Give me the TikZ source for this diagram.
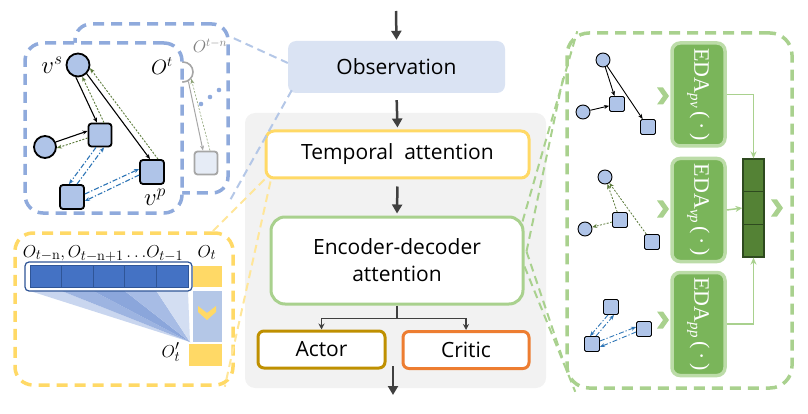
\documentclass[tikz,border=0pt]{standalone}
\usepackage[no-math]{fontspec}
\setmainfont{Open Sans}
\newfontfamily\serifcam{Liberation Serif}
\usetikzlibrary{arrows.meta,calc}
\definecolor{obsblue}{HTML}{DAE3F3}
\definecolor{pblue}{HTML}{8FAADC}
\definecolor{lblue}{HTML}{B4C7E7}
\definecolor{nodeblue}{HTML}{AFC4E8}
\definecolor{ayellow}{HTML}{FFD966}
\definecolor{lyellow}{HTML}{FFE699}
\definecolor{agreen}{HTML}{A9D18E}
\definecolor{edagreen}{HTML}{7AB55A}
\definecolor{edaborder}{HTML}{BCDCA8}
\definecolor{dgreen}{HTML}{548235}
\definecolor{ddgreen}{HTML}{2E4A1F}
\definecolor{agold}{HTML}{BF9000}
\definecolor{aorange}{HTML}{ED7D31}
\definecolor{bggrey}{HTML}{F2F2F2}
\definecolor{arrgrey}{HTML}{404040}
\definecolor{dblue}{HTML}{4472C4}
\definecolor{ddblue}{HTML}{2F5597}
\definecolor{dashblue}{HTML}{2E75B6}
\definecolor{olivedot}{HTML}{5B7A3A}
\definecolor{ghostgrey}{HTML}{A6A6A6}
\definecolor{ghostfill}{HTML}{E6ECF6}
\definecolor{fan1}{HTML}{C9D6EF}
\definecolor{fan2}{HTML}{9DB4E1}
\definecolor{fan3}{HTML}{8BA6DB}
\definecolor{fan4}{HTML}{A7BCE5}
\definecolor{fan5}{HTML}{D3DEF2}
\newcommand{\edalabel}[1]{EDA{\fontsize{15}{15}\selectfont\itshape\raisebox{-4pt}{#1}}\,(\,·\,)}
\begin{document}
\begin{tikzpicture}[x=1pt,y=-1pt,
  lbl/.style={font=\fontsize{21}{27}\selectfont, text=black},
  cbox/.style={draw, rounded corners=8pt, line width=3pt, fill=white, lbl, inner sep=0pt},
  bigarrow/.style={arrgrey, line width=2.5pt, -{Triangle[length=9pt,width=10pt]}},
  smallarr/.style={-{Stealth[length=5pt,width=4pt]}},
  bigv/.style={circle, draw=black, line width=1.8pt, fill=nodeblue, minimum size=23pt, inner sep=0pt},
  bigsq/.style={rectangle, rounded corners=3pt, draw=black, line width=1.8pt, fill=nodeblue, minimum size=23pt, inner sep=0pt},
  smv/.style={circle, draw=black, line width=0.9pt, fill=nodeblue, minimum size=14pt, inner sep=0pt},
  smsq/.style={rectangle, rounded corners=1.5pt, draw=black, line width=0.9pt, fill=nodeblue, minimum size=15pt, inner sep=0pt},
  solidarr/.style={black, line width=1.1pt, smallarr},
  dotarr/.style={olivedot, line width=0.9pt, dash pattern=on 2pt off 1.5pt, smallarr},
  dasharr/.style={dashblue, line width=1.1pt, dash pattern=on 5pt off 2pt on 1.2pt off 2pt, smallarr},
  panel/.style={rectangle, dash pattern=on 11pt off 7pt, line width=3.5pt, inner sep=0pt},
  link/.style={line width=2pt, dash pattern=on 8pt off 5pt},
  edabox/.style={rectangle, rounded corners=8pt, fill=edagreen, draw=edaborder, line width=3.5pt, minimum width=53pt, minimum height=103pt, inner sep=0pt},
  edatxt/.style={rotate=-90, text=white, font=\serifcam\fontsize{22}{22}\selectfont, inner sep=0pt},
  cellbox/.style={rectangle, fill=dgreen, draw=ddgreen, line width=1.2pt, minimum width=21pt, minimum height=32.7pt, inner sep=0pt},
  ysq/.style={rectangle, fill=ayellow, inner sep=0pt},
  chev/.pic={\fill[agreen] (-6,-8.5)--(0,-8.5)--(6,0)--(0,8.5)--(-6,8.5)--(0,0)--cycle;}
]
\useasboundingbox (0,0) rectangle (808,414);

% ---------- centre ----------
\fill[bggrey, rounded corners=10pt] (245,113) rectangle (546,388);
\node[fill=obsblue, rounded corners=8pt, minimum width=217pt, minimum height=52pt, lbl, inner sep=0pt] (obs) at (396.5,67) {Observation};
\node[cbox, draw=ayellow, minimum width=263pt, minimum height=47pt] (temp) at (397.5,154.5) {Temporal\ \ attention};
\node[cbox, draw=agreen, rounded corners=14pt, minimum width=252pt, minimum height=87pt, align=center] (enc) at (397,260.5) {Encoder-decoder\\attention};
\node[cbox, draw=agold, rounded corners=6pt, minimum width=127pt, minimum height=37pt] (actor) at (321.5,349.5) {Actor};
\node[cbox, draw=aorange, rounded corners=6pt, minimum width=126pt, minimum height=37pt] (critic) at (466,350) {Critic};

\coordinate (intop) at (396,11);
\coordinate (outtop) at (393,366);
\coordinate (outbot) at (393,395);
\draw[bigarrow, shorten >=1pt] (intop) -- (obs.north);
\draw[bigarrow, shorten <=7pt, shorten >=2pt] (obs.south) -- (temp.north);
\draw[bigarrow, shorten <=7pt, shorten >=2pt] (temp.south) -- (enc.north);
\draw[arrgrey, line width=1.3pt] (enc.south) -- ++(0,13) coordinate (split);
\draw[arrgrey, line width=1.3pt, -{Stealth[length=6pt,width=6pt]}] (split) -| (actor.north);
\draw[arrgrey, line width=1.3pt, -{Stealth[length=6pt,width=6pt]}] (split) -| (critic.north);
\draw[bigarrow] (outtop) -- (outbot);

% ---------- left top panel ----------
\node[panel, draw=pblue, rounded corners=16pt, minimum width=153pt, minimum height=169pt] (outerP) at (151.5,108.5) {};
\node[circle, draw=ghostgrey, line width=1.6pt, fill=white, minimum size=20pt, inner sep=0pt] (gc) at (183,72) {};
\node[rectangle, rounded corners=3pt, draw=ghostgrey, line width=1.8pt, fill=ghostfill, minimum size=23pt, inner sep=0pt] (gs) at (206,163) {};
\draw[ghostgrey, line width=1pt, smallarr] (gc.-60) -- ($(gs.north)+(-3,0)$);
\draw[dotarr, line width=0.6pt, olivedot!70] ($(gs.north)+(4,0)$) -- (gc.-40);
\fill[pblue] (201,104) circle (2.3) (210,97) circle (2.3) (219,90) circle (2.3);
\node[panel, draw=pblue, fill=white, rounded corners=18pt, minimum width=157pt, minimum height=170pt] (innerP) at (103.5,128) {};

\node[bigv] (vs) at (78,65) {};
\node[bigv, minimum size=22pt] (vl) at (45,147) {};
\node[bigsq] (vm) at (100,135) {};
\node[bigsq, minimum size=24pt] (vp) at (152,172) {};
\node[bigsq, minimum size=24pt] (vb) at (72,197) {};

\draw[solidarr] (vs.-100) -- ($(vm.north)+(-3,0)$);
\draw[dotarr] ($(vm.north)+(4,0)$) -- (vs.-70);
\draw[solidarr] (vs.-45) -- ($(vp.north)+(-2,0)$);
\draw[dotarr] ($(vp.north)+(6,0)$) -- (vs.-15);
\draw[solidarr] (vl.25) -- ($(vm.west)+(0,-4)$);
\draw[dotarr] ($(vm.west)+(0,3)$) -- (vl.-5);
\draw[dasharr] ($(vm.south)+(-4,0)$) -- ($(vb.north)+(-3,0)$);
\draw[dasharr] ($(vb.north)+(5,0)$) -- ($(vm.south)+(4,0)$);
\draw[dasharr] ($(vb.east)+(0,-3)$) -- ($(vp.west)+(0,-3)$);
\draw[dasharr] ($(vp.west)+(0,3)$) -- ($(vb.east)+(0,4)$);

\node[font=\fontsize{24}{24}\selectfont] at (52,65) {$v^{s}$};
\node[font=\fontsize{20}{20}\selectfont] at (162,66) {$O^{t}$};
\node[font=\fontsize{17}{17}\selectfont, text=gray] at (210,46) {$O^{t-n}$};
\node[font=\fontsize{24}{24}\selectfont] at (155,197) {$v^{p}$};

% ---------- left bottom panel ----------
\node[panel, draw=ayellow, rounded corners=18pt, minimum width=218pt, minimum height=152pt] (yP) at (124,309) {};
\coordinate (apex) at (190,342);
\fill[fan1] (30,291) -- (61.6,291) -- (apex) -- cycle;
\fill[fan2] (61.6,291) -- (93.2,291) -- (apex) -- cycle;
\fill[fan3] (93.2,291) -- (124.8,291) -- (apex) -- cycle;
\fill[fan4] (124.8,291) -- (156.4,291) -- (apex) -- cycle;
\fill[fan5] (156.4,291) -- (188,291) -- (apex) -- cycle;
\node[rectangle, draw=ddblue, line width=1.2pt, fill=white, rounded corners=4pt, minimum width=167pt, minimum height=29pt, inner sep=0pt] (bar) at (108.5,276.5) {};
\foreach \i in {0,...,4}{
  \node[rectangle, fill=dblue, draw=ddblue, line width=0.8pt, minimum width=31.6pt, minimum height=22pt, inner sep=0pt] (c\i) at (45.8+31.6*\i,276) {};
}
\node[ysq, minimum width=29pt, minimum height=21pt] (ot) at (207.5,276.5) {};
\node[rectangle, fill=lblue, minimum width=29pt, minimum height=51pt, inner sep=0pt] (attn) at (207.5,316.5) {};
\node[ysq, minimum width=33pt, minimum height=22pt] (otp) at (205.5,354.5) {};
\fill[ayellow] (198,306) -- (207,313) -- (216,306) -- (216,312) -- (207,320) -- (198,312) -- cycle;
\node[font=\fontsize{19}{19}\selectfont, anchor=base] at (103,257) {$O_{t-\mathrm{n}},O_{t-\mathrm{n}+1}\,{\dots}O_{t-1}$};
\node[font=\fontsize{19}{19}\selectfont, anchor=base] at (207,257) {$O_t$};
\node[font=\fontsize{19}{19}\selectfont] at (171,352) {$O'_t$};

% ---------- right panel ----------
\node[panel, draw=agreen, rounded corners=22pt, minimum width=225pt, minimum height=355pt] (gP) at (679.5,210.5) {};

\node[smv] (a1) at (603,60) {};
\node[smv] (a2) at (583,112) {};
\node[smsq] (a3) at (617,104) {};
\node[smsq] (a4) at (648,127) {};
\draw[solidarr, line width=0.9pt] (a1) -- (a3);
\draw[solidarr, line width=0.9pt] (a1) -- (a4);
\draw[solidarr, line width=0.9pt] (a2) -- (a3);

\node[smv] (b1) at (605,177) {};
\node[smv] (b2) at (585,229) {};
\node[smsq] (b3) at (620,220) {};
\node[smsq] (b4) at (652,242) {};
\draw[dotarr, line width=0.8pt] (b3) -- (b1);
\draw[dotarr, line width=0.8pt] (b4) -- (b1);
\draw[dotarr, line width=0.8pt] (b3) -- (b2);

\node[smsq] (d1) at (611,307) {};
\node[smsq] (d2) at (644,329) {};
\node[smsq] (d3) at (592,344) {};
\draw[dasharr, line width=0.9pt] ($(d1.south)+(-3,0)$) -- ($(d3.north)+(-2,0)$);
\draw[dasharr, line width=0.9pt] ($(d3.north)+(4,0)$) -- ($(d1.south)+(3,0)$);
\draw[dasharr, line width=0.9pt] ($(d3.east)+(0,-3)$) -- ($(d2.west)+(0,-2)$);
\draw[dasharr, line width=0.9pt] ($(d2.west)+(0,3)$) -- ($(d3.east)+(0,3)$);

\pic at (663,96) {chev};
\pic at (663,209) {chev};
\pic at (663,320) {chev};
\pic at (777,208) {chev};

\node[edabox] (eda1) at (698.5,94.5) {};
\node[edatxt] at (eda1) {\edalabel{pv}};
\node[edabox] (eda2) at (698.5,210) {};
\node[edatxt] at (eda2) {\edalabel{vp}};
\node[edabox] (eda3) at (698.5,324) {};
\node[edatxt] at (eda3) {\edalabel{pp}};

\node[cellbox] (s1) at (753.5,175.3) {};
\node[cellbox] (s2) at (753.5,208) {};
\node[cellbox] (s3) at (753.5,240.7) {};
\draw[agreen, line width=1.5pt, -{Stealth[length=7pt,width=6pt]}] (eda1.east) -| (s1.north);
\draw[agreen, line width=1.5pt, -{Stealth[length=7pt,width=6pt]}] (eda2.east) -- (s2.west);
\draw[agreen, line width=1.5pt, -{Stealth[length=7pt,width=6pt]}] (eda3.east) -| (s3.south);

% ---------- zoom connectors ----------
\draw[lblue, link] ($(outerP.north east)+(4,16)$) -- ($(obs.west)+(0,-4)$);
\draw[lblue, link] ($(obs.south west)+(4,-3)$) -- ($(outerP.south east)+(0,6)$);
\draw[lyellow, link] (temp.south west) -- ($(yP.north east)+(-22,0)$);
\draw[lyellow, link] ($(temp.south west)+(6,2)$) -- ($(yP.south east)+(-10,0)$);
\draw[agreen, link] ($(enc.north east)+(-2,6)$) -- ($(gP.north west)+(12,0)$);
\draw[agreen, link] ($(enc.east)+(2,-9)$) -- ($(gP.west)+(-2,-133)$);
\draw[agreen, link] ($(enc.east)+(2,-9)$) -- ($(gP.west)+(-2,150)$);
\draw[agreen, link] ($(enc.east)+(0,6)$) -- ($(gP.south west)+(10,2)$);
\end{tikzpicture}
\end{document}
